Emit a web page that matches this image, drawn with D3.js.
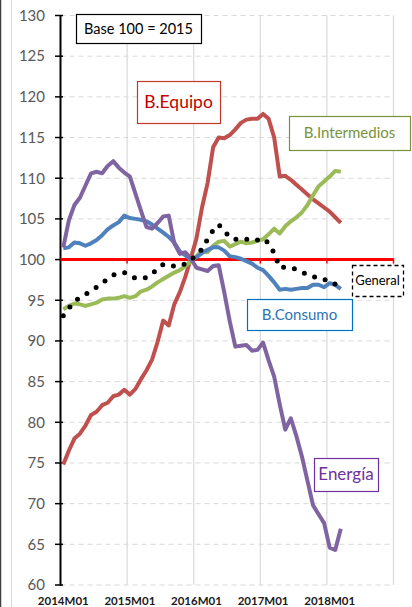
<!DOCTYPE html>
<html>
<head>
<meta charset="utf-8">
<script src="https://cdn.jsdelivr.net/npm/d3@7"></script>
<style>
  body { margin: 0; background: #fff; }
  svg { display: block; font-family: Lato, "Open Sans", sans-serif; }
</style>
</head>
<body>
<div id="chart"></div>
<script>
// months on the axis: 2014M01 .. 2018M12
var axisMonths = [];
[2014, 2015, 2016, 2017, 2018].forEach(function(y) {
    for (var m = 1; m <= 12; m++) axisMonths.push(y + "M" + (m < 10 ? "0" + m : m));
});
var yearLabels = ["2014M01", "2015M01", "2016M01", "2017M01", "2018M01"];
var yTicks = [60, 65, 70, 75, 80, 85, 90, 95, 100, 105, 110, 115, 120, 125, 130];

// data runs 2014M01 .. 2018M03
var equipo = [74.8, 76.5, 78.0, 78.6, 79.6, 80.9, 81.3, 82.1, 82.4, 83.2, 83.4, 84.0,
    83.4, 84.1, 85.3, 86.4, 87.7, 89.9, 92.5, 91.9, 94.5, 96.0, 97.9, 100.2,
    102.6, 106.4, 109.4, 113.8, 115.0, 114.9, 115.3, 116.0, 116.8, 117.2, 117.3, 117.3,
    117.9, 117.3, 115.0, 110.2, 110.3, 109.8, 109.2, 108.6, 108.0, 107.4, 106.9, 106.4,
    105.9, 105.2, 104.5];
var intermedios = [93.9, 94.3, 94.6, 94.5, 94.3, 94.5, 94.7, 95.1, 95.2, 95.2, 95.3, 95.5,
    95.3, 95.5, 96.1, 96.3, 96.7, 97.2, 97.6, 98.0, 98.4, 98.7, 99.2, 99.8,
    100.4, 101.1, 100.9, 101.7, 102.2, 102.3, 101.6, 101.9, 102.2, 102.0, 102.1, 102.3,
    102.5, 103.1, 103.8, 103.2, 104.1, 104.7, 105.2, 105.8, 106.7, 107.9, 109.0, 109.6,
    110.2, 110.9, 110.8];
var consumo = [101.4, 101.5, 102.1, 102.0, 101.7, 102.0, 102.4, 103.0, 103.7, 104.2, 104.6, 105.4,
    105.1, 105.0, 104.9, 104.7, 104.3, 103.8, 103.3, 102.8, 102.1, 101.0, 100.5, 100.0,
    100.3, 100.8, 101.2, 101.5, 101.5, 101.1, 100.4, 100.3, 100.1, 99.8, 99.5, 99.0,
    98.7, 98.0, 97.2, 96.3, 96.4, 96.3, 96.4, 96.5, 96.5, 96.9, 96.9, 96.6,
    97.1, 96.9, 96.4];
var energia = [101.5, 104.8, 106.7, 107.6, 109.1, 110.6, 110.8, 110.6, 111.5, 112.1, 111.3, 110.7,
    110.2, 108.1, 106.0, 104.0, 103.8, 104.5, 105.3, 105.4, 102.0, 100.7, 100.9, 100.1,
    99.0, 98.8, 98.6, 99.2, 99.3, 96.0, 92.4, 89.3, 89.4, 89.5, 88.8, 88.9,
    89.8, 87.6, 85.6, 82.2, 79.1, 80.5, 78.3, 75.8, 72.8, 69.8, 68.7, 67.6,
    64.6, 64.3, 66.9];
var general = [93.1, 94.0, 94.9, 95.3, 95.7, 96.2, 96.6, 97.1, 97.6, 98.1, 98.3, 98.4,
    98.0, 97.7, 97.7, 97.8, 98.2, 98.9, 99.4, 99.2, 99.2, 99.2, 99.5, 100.0,
    100.5, 101.3, 102.5, 103.6, 104.3, 103.6, 102.7, 102.5, 102.6, 102.5, 102.3, 102.4,
    102.6, 102.0, 100.8, 99.0, 99.1, 99.0, 98.8, 98.5, 98.1, 97.9, 97.7, 97.6,
    97.1, 97.0, 96.8];

var w = 412, h = 607;
var svg = d3.select("#chart").append("svg").attr("width", w).attr("height", h);

// outer frame bits on the left
svg.append("line").attr("x1", 0.5).attr("x2", 0.5).attr("y1", 0).attr("y2", h)
   .attr("stroke", "#404040").attr("stroke-width", 1.5);
svg.append("line").attr("x1", 11.5).attr("x2", 11.5).attr("y1", 0).attr("y2", h)
   .attr("stroke", "#d9d9d9").attr("stroke-width", 1);

var x = d3.scaleBand().domain(axisMonths).range([60.5, 393.5]);
var y = d3.scaleLinear().domain([60, 130]).range([585, 15.5]);
function cx(i) { return x(axisMonths[i]) + x.bandwidth() / 2; }

// horizontal dashed gridlines
svg.selectAll("line.hgrid").data(yTicks).enter().append("line")
   .attr("class", "hgrid")
   .attr("x1", 60.5).attr("x2", 393.5)
   .attr("y1", function(d) { return y(d); }).attr("y2", function(d) { return y(d); })
   .attr("stroke", "#d9d9d9").attr("stroke-width", 1).attr("stroke-dasharray", "5,4");

// vertical gridlines at each year + right edge
var vlines = yearLabels.slice(1).map(function(d) { return x(d); }).concat([393.5]);
svg.selectAll("line.vgrid").data(vlines).enter().append("line")
   .attr("class", "vgrid")
   .attr("x1", function(d) { return d; }).attr("x2", function(d) { return d; })
   .attr("y1", y(130)).attr("y2", y(60))
   .attr("stroke", "#d9d9d9").attr("stroke-width", 1.2);

// y axis
var yAxis = d3.axisLeft(y).tickValues(yTicks).tickSize(0).tickPadding(15);
var gy = svg.append("g").attr("transform", "translate(60,0)").call(yAxis);
gy.select(".domain").attr("stroke", "#000").attr("stroke-width", 2);
gy.selectAll("text").attr("fill", "#595959").style("font-size", "15px").style("font-family", "Lato, sans-serif");
svg.selectAll("line.ytick").data(yTicks).enter().append("line")
   .attr("x1", 55).attr("x2", 63)
   .attr("y1", function(d) { return y(d); }).attr("y2", function(d) { return y(d); })
   .attr("stroke", "#000").attr("stroke-width", 1.5);

// x labels
svg.selectAll("text.xlab").data(yearLabels).enter().append("text")
   .attr("x", function(d) { return x(d) + x.bandwidth() / 2; })
   .attr("y", 605)
   .attr("text-anchor", "middle")
   .style("font-size", "11.5px").style("font-weight", "bold")
   .attr("fill", "#1a1a1a")
   .text(function(d) { return d; });

// red base-100 line
svg.append("line").attr("x1", 60.5).attr("x2", 393.5)
   .attr("y1", y(100)).attr("y2", y(100))
   .attr("stroke", "#ff0000").attr("stroke-width", 3);
svg.selectAll("line.redtick").data(vlines).enter().append("line")
   .attr("x1", function(d) { return d; }).attr("x2", function(d) { return d; })
   .attr("y1", y(100) - 1).attr("y2", y(100) + 4)
   .attr("stroke", "#ff0000").attr("stroke-width", 1.5);

var line = d3.line()
    .x(function(d, i) { return cx(i); })
    .y(function(d) { return y(d); });

var series = [
    { vals: equipo, color: "#c0504d" },
    { vals: intermedios, color: "#9bbb59" },
    { vals: consumo, color: "#4f81bd" },
    { vals: energia, color: "#8064a2" }
];
series.forEach(function(s) {
    svg.append("path").datum(s.vals)
       .attr("d", line)
       .attr("fill", "none")
       .attr("stroke", s.color)
       .attr("stroke-width", 4)
       .attr("stroke-linejoin", "round");
});

svg.append("path").datum(general)
   .attr("d", line)
   .attr("fill", "none")
   .attr("stroke", "#000")
   .attr("stroke-width", 5)
   .attr("stroke-linecap", "round")
   .attr("stroke-dasharray", "0,11");

// labels in boxes
var boxes = [
    { text: "Base 100 = 2015", x: 76, y: 14, w: 125, h: 29, stroke: "#000", fill: "#000", size: 14.5, dash: null },
    { text: "B.Equipo", x: 137, y: 81, w: 83, h: 42, stroke: "#c0392b", fill: "#c00000", size: 17.5, dash: null },
    { text: "B.Intermedios", x: 289, y: 116, w: 121, h: 34, stroke: "#77933c", fill: "#77933c", size: 15, dash: null },
    { text: "General", x: 352, y: 265, w: 51, h: 31, stroke: "#000", fill: "#000", size: 13, dash: "4,3" },
    { text: "B.Consumo", x: 247, y: 299, w: 105, h: 31, stroke: "#0070c0", fill: "#2e75b6", size: 15, dash: null },
    { text: "Energía", x: 314, y: 458, w: 64, h: 33, stroke: "#7030a0", fill: "#7030a0", size: 17, dash: null }
];
var bg = svg.selectAll("g.box").data(boxes).enter().append("g").attr("class", "box");
bg.append("rect")
  .attr("x", function(d) { return d.x + 0.5; }).attr("y", function(d) { return d.y + 0.5; })
  .attr("width", function(d) { return d.w; }).attr("height", function(d) { return d.h; })
  .attr("fill", "#fff")
  .attr("stroke", function(d) { return d.stroke; })
  .attr("stroke-width", function(d) { return d.dash ? 1.3 : 1.2; })
  .attr("stroke-dasharray", function(d) { return d.dash; });
bg.append("text")
  .attr("x", function(d) { return d.x + d.w / 2; })
  .attr("y", function(d) { return d.y + d.h / 2; })
  .attr("dy", "0.35em")
  .attr("text-anchor", "middle")
  .attr("fill", function(d) { return d.fill; })
  .style("font-size", function(d) { return d.size + "px"; })
  .text(function(d) { return d.text; });
</script>
</body>
</html>
